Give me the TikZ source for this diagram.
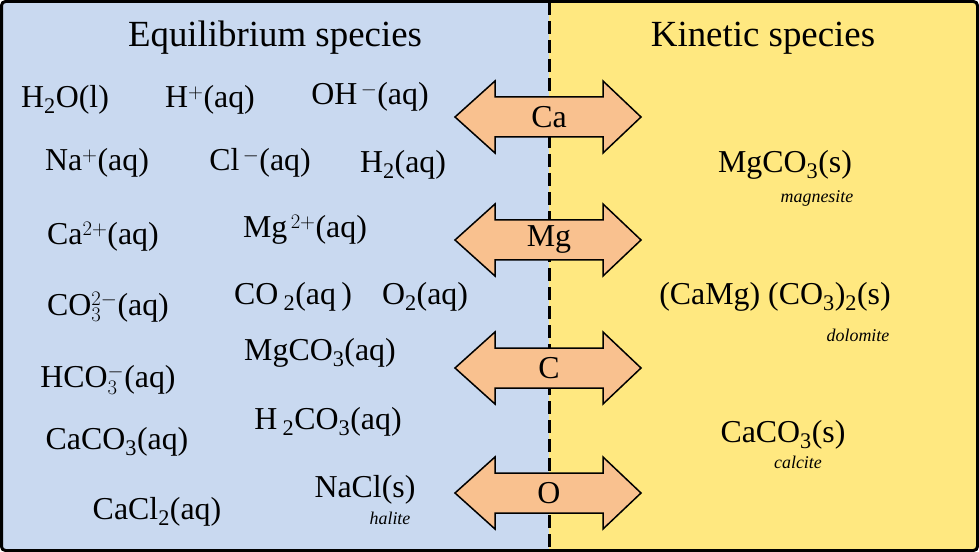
\documentclass[tikz,border=0pt]{standalone}
\usepackage{fontspec}
\setmainfont{Liberation Serif}
\begin{document}
\begin{tikzpicture}[x=1bp,y=-1bp,
  sp/.style={font=\fontsize{32}{34}\selectfont, inner sep=0},
  ttl/.style={font=\fontsize{37}{40}\selectfont, inner sep=0},
  nm/.style={font=\fontsize{18}{20}\selectfont\itshape, inner sep=0},
  arr/.style={draw=black, line width=1.5bp, fill={rgb,255:red,249;green,193;blue,143}, line join=miter}]
\useasboundingbox (0,0) rectangle (979,552);
\fill[fill={rgb,255:red,201;green,217;blue,240}] (2,2) rectangle (549,550);
\fill[fill={rgb,255:red,255;green,232;blue,128}] (549,2) rectangle (977,550);
\draw[line width=3bp, rounded corners=4bp] (1.5,1.5) rectangle (977.5,550.5);
\draw[line width=3bp, dash pattern=on 13bp off 6bp] (549,2) -- (549,550);
\node[ttl] (t1) at (275,38) {Equilibrium species};
\node[ttl] (t2) at (763,38) {Kinetic species};
\foreach \y/\l in {117/Ca,240/Mg,368/C,493/O}{
  \draw[arr] (455,\y) -- (495,\y-36) -- (495,\y-20) -- (603,\y-20) -- (603,\y-36) -- (641,\y) -- (603,\y+36) -- (603,\y+20) -- (495,\y+20) -- (495,\y+36) -- cycle;
  \node[sp] (a\l) at (549,\y) {\l};
}
\node[sp] (s1) at (65,100) {H\textsubscript{2}O(l)};
\node[sp] (s2) at (210,100) {H$^{+}$(aq)};
\node[sp] (s3) at (370,97) {OH$^{\,-}$(aq)};
\node[sp] (s4) at (97,163) {Na$^{+}$(aq)};
\node[sp] (s5) at (260,163) {Cl$^{\,-}$(aq)};
\node[sp] (s6) at (403,165) {H\textsubscript{2}(aq)};
\node[sp] (s7) at (103,237) {Ca$^{2+}$(aq)};
\node[sp] (s8) at (305,230) {Mg$^{\,2+}$(aq)};
\node[sp] (s9) at (108,307) {CO$_3^{2-}$(aq)};
\node[sp] (s10) at (293,297) {CO\,\textsubscript{2}(aq\,)};
\node[sp] (s11) at (425,297) {O\textsubscript{2}(aq)};
\node[sp] (s12) at (108,380) {HCO$_3^-$(aq)};
\node[sp] (s13) at (320,353) {MgCO\textsubscript{3}(aq)};
\node[sp] (s14) at (117,442) {CaCO\textsubscript{3}(aq)};
\node[sp] (s15) at (328,422) {H\,\textsubscript{2}CO\textsubscript{3}(aq)};
\node[sp] (s16) at (157,512) {CaCl\textsubscript{2}(aq)};
\node[sp] (s17) at (365,490) {NaCl(s)};
\node[nm] (n17) at (390,518) {halite};
\node[sp] (k1) at (785,165) {MgCO\textsubscript{3}(s)};
\node[nm] (m1) at (817,198) {magnesite};
\node[sp] (k2) at (775,297) {(CaMg) (CO\textsubscript{3})\textsubscript{2}(s)};
\node[nm] (m2) at (858,335) {dolomite};
\node[sp] (k3) at (783,435) {CaCO\textsubscript{3}(s)};
\node[nm] (m3) at (798,462) {calcite};
\end{tikzpicture}
\end{document}
